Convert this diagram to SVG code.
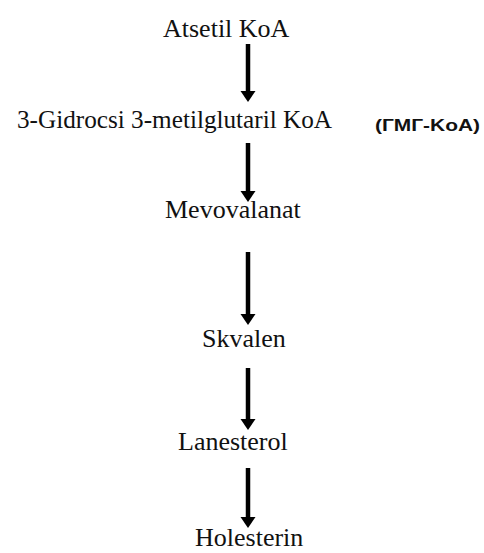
<svg xmlns="http://www.w3.org/2000/svg" width="484" height="553" viewBox="0 0 484 553">
<defs>
<style>
.t{font-family:"Liberation Serif","Times New Roman",serif;font-size:26px;fill:#111;}
.s{font-family:"Liberation Sans",Arial,sans-serif;font-size:17px;font-weight:bold;fill:#111;}
.sh{stroke:#000;stroke-width:4.5;fill:none;}
.hd{fill:#000;}
</style>
</defs>
<rect width="484" height="553" fill="#fff"/>
<g id="connectors">
<line class="sh" x1="248" y1="44" x2="248" y2="93"/><polygon class="hd" points="240.5,91 255.5,91 248,102"/>
<line class="sh" x1="248" y1="143" x2="248" y2="193"/><polygon class="hd" points="240.5,191 255.5,191 248,202"/>
<line class="sh" x1="248" y1="252" x2="248" y2="316"/><polygon class="hd" points="240.5,314 255.5,314 248,325"/>
<line class="sh" x1="248" y1="368" x2="248" y2="421"/><polygon class="hd" points="240.5,419 255.5,419 248,430"/>
<line class="sh" x1="248" y1="468" x2="248" y2="519"/><polygon class="hd" points="240.5,517 255.5,517 248,528"/>
</g>
<g id="n1"><text class="t" x="163" y="37">Atsetil KoA</text></g>
<g id="n2"><text class="t" x="17" y="128" style="font-size:25px" textLength="315" lengthAdjust="spacingAndGlyphs">3-Gidrocsi 3-metilglutaril KoA</text></g>
<g id="n2b"><text class="s" x="375" y="131" textLength="105" lengthAdjust="spacingAndGlyphs">(ГМГ-KoA)</text></g>
<g id="n3"><text class="t" x="165" y="218">Mevovalanat</text></g>
<g id="n4"><text class="t" x="202" y="347">Skvalen</text></g>
<g id="n5"><text class="t" x="178" y="450">Lanesterol</text></g>
<g id="n6"><text class="t" x="195" y="546">Holesterin</text></g>
</svg>
